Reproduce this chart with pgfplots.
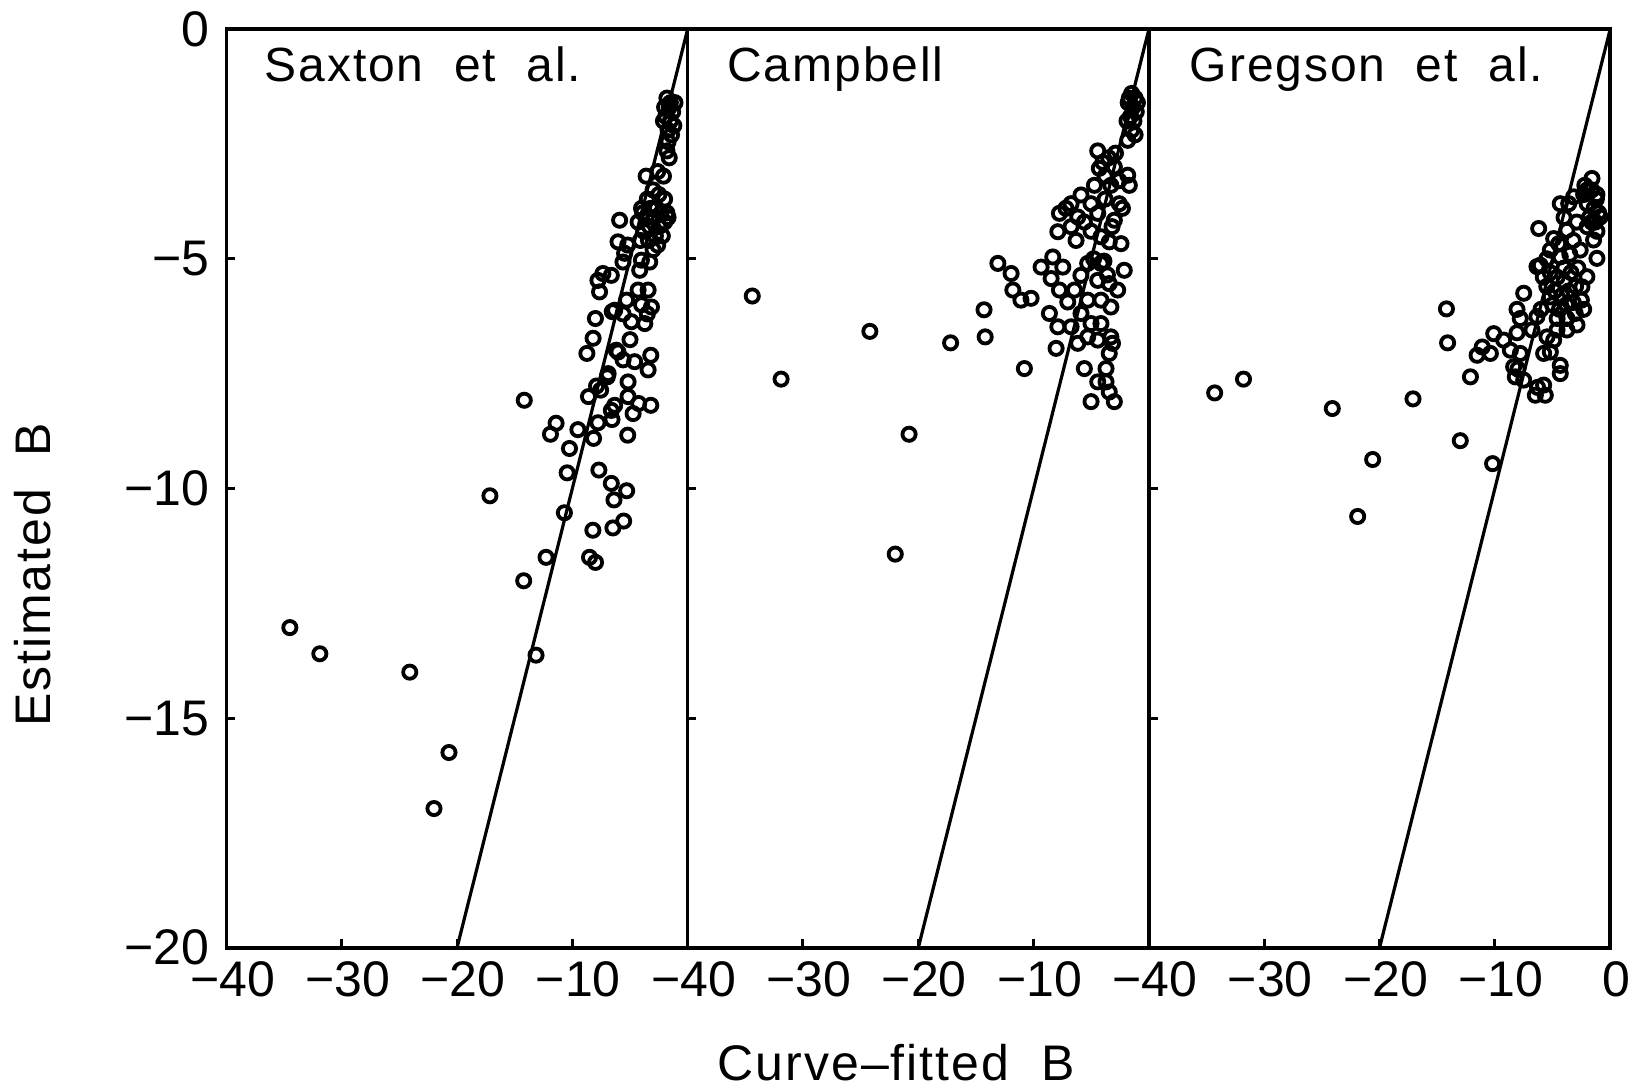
\documentclass[border=0pt]{standalone}
\usepackage{fontspec}
\setmainfont{Liberation Sans}
\newfontfamily\spaced{Liberation Sans}[LetterSpace=4]
\usepackage{pgfplots}
\pgfplotsset{compat=1.18}
\tikzset{ptitle/.style={anchor=base west, font=\spaced\fontsize{12}{14}\selectfont}}
\begin{document}
\begin{tikzpicture}
\pgfplotsset{panel/.style={
  scale only axis, width=115.3pt, height=229.6pt,
  xmin=-40, xmax=0, ymin=-20, ymax=0,
  xtick={-40,-30,-20,-10,0}, ytick={-20,-15,-10,-5,0},
  tick align=inside, xtick pos=left, ytick pos=left,
  major tick length=2.2pt,
  axis line style={line width=0.9pt},
  every tick/.style={black, line width=0.75pt},
  tick label style={font=\fontsize{12.5}{14}\selectfont},
  xticklabel style={xshift=1.5pt},
  yticklabel style={xshift=-0.8pt},
  yticklabels={},
  xticklabels={−40,−30,−20,−10,{}},
  anchor=south west,
},
pts/.style={only marks, mark=o, mark size=1.65pt, mark options={line width=0.95pt, black}},
oneline/.style={no marks, black, line width=0.8pt}}

\begin{axis}[panel, name=a1, at={(0pt,0pt)}, yticklabels={−20,−15,−10,−5,0}]
\addplot[oneline] coordinates {(-20,-20) (0,0)};
\addplot[pts] coordinates {
(-1.8,-1.5) (-1.5,-1.6) (-2.0,-1.7) (-1.3,-1.8) (-1.9,-1.9) (-1.5,-2.0) (-1.2,-2.1) (-2.1,-2.0) (-1.7,-2.2) (-1.4,-2.3) (-1.6,-1.7) (-1.1,-1.6)
(-1.7,-2.45) (-1.8,-2.65) (-1.6,-2.8)
(-3.6,-3.2) (-2.1,-3.2) (-2.6,-3.1)
(-3.0,-3.5) (-2.5,-3.6) (-3.5,-3.7) (-2.0,-3.7) (-3.2,-3.9) (-2.7,-3.9) (-4.0,-3.9) (-1.8,-4.0) (-2.3,-4.0) (-3.6,-4.1) (-2.9,-4.1) (-4.3,-4.2) (-2.0,-4.2) (-3.3,-4.3) (-2.5,-4.3) (-3.8,-4.4) (-1.7,-4.1) (-2.8,-4.5) (-3.4,-4.6) (-4.1,-4.6) (-2.2,-4.5) (-3.0,-4.8) (-2.6,-4.7) (-3.9,-4.0)
(-5.9,-4.16) (-6.04,-4.63) (-5.47,-4.88) (-4.01,-5.03) (-3.29,-5.07) (-4.16,-5.25) (-5.61,-5.07) (-5.2,-4.7)
(-7.35,-5.32) (-7.78,-5.47) (-6.62,-5.36) (-7.64,-5.72)
(-4.3,-5.68) (-3.43,-5.68) (-3.14,-6.05) (-3.72,-6.41) (-4.88,-6.37) (-6.33,-6.12) (-5.3,-5.9) (-5.6,-6.2) (-4.0,-6.0) (-3.5,-6.2)
(-8.0,-6.3) (-8.2,-6.73) (-8.74,-7.06) (-5.0,-6.76) (-6.54,-6.15)
(-6.19,-6.99) (-5.6,-7.2) (-4.6,-7.24) (-3.43,-7.42) (-3.2,-7.1) (-6.04,-7.03) (-6.97,-7.57) (-5.17,-7.68) (-6.9,-7.5)
(-14.17,-8.08) (-11.41,-8.58) (-11.9,-8.82) (-9.52,-8.72) (-8.16,-8.91) (-7.78,-8.57) (-8.6,-8.0) (-7.55,-7.86) (-7.9,-7.77) (-5.17,-8.0) (-4.25,-8.15) (-3.2,-8.19) (-4.73,-8.37) (-6.62,-8.3) (-6.33,-8.19) (-6.56,-8.5) (-5.2,-8.84) (-10.25,-9.13) (-10.45,-9.66) (-10.69,-10.53) (-7.7,-9.6) (-6.62,-9.89) (-5.29,-10.05) (-6.39,-10.25) (-8.22,-10.91) (-6.48,-10.86) (-5.55,-10.71) (-8.51,-11.5) (-7.99,-11.61) (-12.28,-11.5) (-14.22,-12.01) (-17.15,-10.16) (-13.15,-13.63) (-24.1,-14.0)
(-34.5,-13.03) (-31.9,-13.6) (-20.7,-15.75) (-22.0,-16.97)
};
\node[ptitle] at (rel axis cs:0,1) [xshift=6pt, yshift=-13pt] {Saxton\ \ et\ \ al.};
\end{axis}

\begin{axis}[panel, name=a2, at={(115.3pt,0pt)}]
\addplot[oneline] coordinates {(-20,-20) (0,0)};
\addplot[pts] coordinates {
(-1.5,-1.4) (-1.2,-1.5) (-1.8,-1.6) (-1.4,-1.7) (-1.1,-1.8) (-1.6,-1.9) (-1.3,-2.0) (-1.9,-2.0) (-1.5,-2.2) (-1.2,-2.3) (-1.7,-1.5) (-1.0,-1.6)
(-1.84,-2.42)
(-4.44,-2.65) (-4.3,-3.03) (-4.0,-2.9) (-3.5,-2.8) (-3.0,-3.0) (-3.8,-3.2) (-2.6,-3.3) (-3.3,-3.4) (-2.9,-2.7)
(-1.84,-3.18) (-1.7,-3.4) (-4.73,-3.4)
(-5.89,-3.61) (-6.75,-3.8) (-7.76,-4.01) (-5.02,-3.8) (-4.44,-4.01) (-6.17,-4.09) (-6.75,-4.3) (-7.9,-4.41) (-5.6,-4.2) (-6.32,-4.6) (-5.02,-4.4) (-4.16,-4.52) (-3.44,-4.63) (-2.42,-4.67) (-2.57,-3.8) (-2.3,-3.9) (-3.0,-4.16) (-3.2,-4.3) (-7.2,-3.9) (-3.8,-3.7)
(-8.34,-4.96) (-9.35,-5.18) (-7.47,-5.18) (-8.48,-5.43) (-7.76,-5.68) (-7.04,-5.94) (-8.63,-6.19) (-7.9,-6.48) (-8.05,-6.95) (-6.75,-6.48) (-5.31,-5.1) (-4.16,-5.1) (-4.44,-5.47) (-3.44,-5.54) (-2.71,-5.68) (-5.9,-5.36) (-6.46,-5.68) (-5.31,-5.9) (-4.16,-5.9) (-3.3,-6.05) (-5.89,-6.19) (-5.02,-6.41) (-4.16,-6.41) (-5.31,-6.7) (-4.44,-6.77) (-3.3,-6.7) (-6.17,-6.84) (-2.14,-5.25) (-3.6,-5.35) (-4.8,-5.0) (-3.9,-5.05)
(-10.22,-5.86) (-11.1,-5.9) (-11.8,-5.68) (-11.95,-5.32) (-13.1,-5.1)
(-10.8,-7.39)
(-5.6,-7.39) (-4.44,-7.68) (-3.72,-7.39) (-3.72,-7.68) (-3.44,-7.9) (-5.02,-8.11) (-3.0,-8.11) (-3.44,-7.06) (-3.16,-6.84)
(-34.4,-5.81) (-31.9,-7.62) (-24.2,-6.58) (-20.8,-8.82) (-22.0,-11.43) (-17.2,-6.83) (-14.3,-6.11) (-14.2,-6.7)
};
\node[ptitle] at (rel axis cs:0,1) [xshift=6.4pt, yshift=-13pt] {Campbell};
\end{axis}

\begin{axis}[panel, name=a3, at={(230.6pt,0pt)}, xticklabels={−40,−30,−20,−10,0}]
\addplot[oneline] coordinates {(-20,-20) (0,0)};
\addplot[pts] coordinates {
(-34.3,-7.92) (-31.8,-7.62) (-24.1,-8.26) (-20.6,-9.37) (-21.9,-10.61) (-17.1,-8.05) (-14.2,-6.09) (-14.1,-6.83) (-13.0,-8.96) (-10.2,-9.46)
(-12.12,-7.57) (-11.54,-7.1) (-11.1,-6.92) (-10.39,-7.06) (-10.1,-6.63) (-9.24,-6.77) (-8.66,-6.99) (-8.08,-6.61) (-7.79,-7.06) (-8.37,-7.35) (-8.23,-7.57) (-7.5,-7.64) (-8.0,-7.4)
(-6.49,-7.97) (-5.77,-7.75) (-5.63,-7.97) (-6.3,-7.8)
(-4.33,-7.32) (-4.33,-7.5)
(-5.77,-7.06) (-5.19,-7.03)
(-8.08,-6.1) (-7.5,-5.75) (-7.8,-6.3) (-6.78,-6.55) (-6.35,-6.26) (-5.48,-6.7) (-4.9,-6.77) (-4.61,-6.55) (-3.75,-6.55) (-2.88,-6.44) (-3.75,-6.3) (-4.6,-6.3) (-3.03,-6.19) (-6.0,-6.1) (-5.19,-5.83)
(-6.2,-4.34) (-4.9,-4.56) (-4.33,-3.8) (-3.17,-3.65) (-1.58,-3.25)
(-2.2,-3.4) (-1.6,-3.5) (-1.2,-3.7) (-2.0,-3.8) (-1.4,-3.9) (-1.0,-4.0) (-1.8,-4.1) (-1.3,-4.2) (-2.3,-3.6)
(-6.35,-5.17) (-5.5,-5.0) (-4.33,-4.96) (-3.5,-4.9) (-2.6,-4.81) (-1.44,-4.59) (-1.15,-4.99) (-2.02,-5.39) (-2.45,-5.61)
(-4.0,-4.1) (-3.75,-4.38) (-3.2,-4.6) (-2.9,-4.2) (-2.0,-4.3) (-1.6,-4.2) (-1.15,-3.6) (-0.87,-4.09) (-1.15,-4.4) (-2.0,-3.5) (-3.6,-3.8) (-4.47,-4.67) (-5.19,-4.81) (-6.06,-5.14)
(-5.2,-5.3) (-4.6,-5.4) (-4.0,-5.2) (-3.4,-5.3) (-2.8,-5.2) (-5.5,-5.6) (-4.8,-5.7) (-4.2,-5.8) (-3.6,-5.7) (-3.0,-5.6) (-2.5,-5.9) (-5.0,-6.0) (-4.4,-6.1) (-3.8,-6.0) (-3.2,-5.95) (-2.3,-6.1) (-4.0,-5.5) (-5.8,-5.4)
};
\node[ptitle] at (rel axis cs:0,1) [xshift=6.7pt, yshift=-13pt] {Gregson\ \ et\ \ al.};
\end{axis}

\node[anchor=base, font=\spaced\fontsize{12.5}{14}\selectfont] at (167.4pt,-33.1pt) {Curve\textendash fitted\ \ B};
\node[anchor=base, rotate=90, font=\spaced\fontsize{12.5}{14}\selectfont] at (-44.1pt,93.1pt) {Estimated\ \ B};

\pgfresetboundingbox
\path[use as bounding box] (-56.6pt,-35.1pt) rectangle (350.6pt,236.9pt);
\end{tikzpicture}
\end{document}
